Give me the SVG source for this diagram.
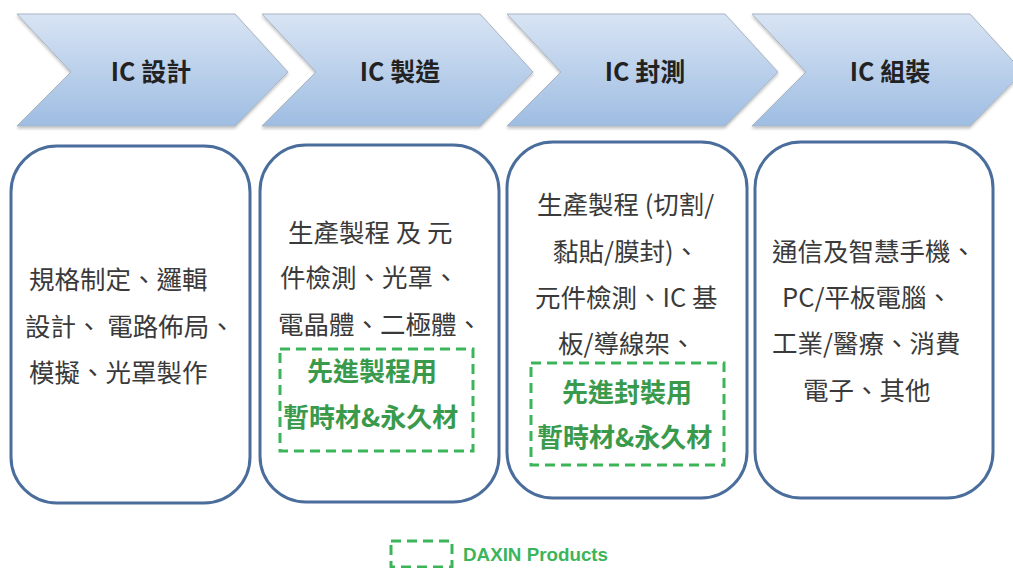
<svg xmlns="http://www.w3.org/2000/svg" width="1013" height="568" viewBox="0 0 1013 568">
<defs>
<linearGradient id="chev" x1="0" y1="0" x2="0" y2="1">
<stop offset="0" stop-color="#d8e4f4"/>
<stop offset="1" stop-color="#9ebde2"/>
</linearGradient>
<filter id="sh" x="-5%" y="-10%" width="110%" height="125%">
<feDropShadow dx="0" dy="2" stdDeviation="1.5" flood-color="#000" flood-opacity="0.25"/>
</filter>
</defs>
<style>
.chev{fill:url(#chev);stroke:#a9b4c2;stroke-width:1;filter:url(#sh)}
.ct{font-family:"Noto Sans CJK TC","Noto Sans",sans-serif;font-weight:bold;font-size:25px;fill:#222;text-anchor:middle}
.box{fill:#fff;stroke:#4a6d9c;stroke-width:3}
.bt{font-family:"Noto Sans CJK TC","Noto Sans",sans-serif;font-size:25.5px;fill:#3a3a3a}
.gt{font-family:"Noto Sans CJK TC","Noto Sans",sans-serif;font-size:26px;font-weight:bold;fill:#3a9a4c}
.dash{fill:none;stroke:#3cb55a;stroke-width:3;stroke-dasharray:10 6}
.lg{font-family:"Liberation Sans",Arial,sans-serif;font-weight:bold;font-size:18.8px;fill:#3cb55a}
</style>
<g id="stage-design">
<polygon class="chev" points="17,14 235,14 288,72 235,126 17,126 71,72"/>
<text class="ct" x="151" y="81">IC 設計</text>
</g>
<g id="stage-fab">
<polygon class="chev" points="262,14 480,14 533,72 480,126 262,126 316,72"/>
<text class="ct" x="400" y="81">IC 製造</text>
</g>
<g id="stage-test">
<polygon class="chev" points="507,14 725,14 778,72 725,126 507,126 561,72"/>
<text class="ct" x="645" y="81">IC 封測</text>
</g>
<g id="stage-assembly">
<polygon class="chev" points="752,14 970,14 1023,72 970,126 752,126 806,72"/>
<text class="ct" x="890" y="81">IC 組裝</text>
</g>
<g id="box-design">
<rect class="box" x="11" y="146" width="239" height="357" rx="46" ry="46"/>
<text class="bt" x="29" y="289">規格制定、邏輯</text>
<text class="bt" x="25" y="336">設計、 電路佈局、</text>
<text class="bt" x="29" y="382">模擬、光罩製作</text>
</g>
<g id="box-fab">
<rect class="box" x="260" y="145" width="239" height="357" rx="46" ry="46"/>
<text class="bt" x="288" y="242">生產製程 及 元</text>
<text class="bt" x="280" y="287">件檢測、光罩、</text>
<text class="bt" x="278" y="334">電晶體、二極體、</text>
<rect class="dash" x="280" y="349" width="193" height="102"/>
<text class="gt" x="307" y="381">先進製程用</text>
<text class="gt" x="283" y="427">暫時材&amp;永久材</text>
</g>
<g id="box-test">
<rect class="box" x="507" y="142" width="240" height="356" rx="46" ry="46"/>
<text class="bt" x="537" y="214">生產製程 (切割/</text>
<text class="bt" x="553" y="261">黏貼/膜封)、</text>
<text class="bt" x="535" y="307">元件檢測、IC 基</text>
<text class="bt" x="558" y="353">板/導線架、</text>
<rect class="dash" x="531" y="363" width="193" height="102"/>
<text class="gt" x="562" y="402">先進封裝用</text>
<text class="gt" x="537" y="447">暫時材&amp;永久材</text>
</g>
<g id="box-assembly">
<rect class="box" x="755" y="142" width="238" height="356" rx="46" ry="46"/>
<text class="bt" x="772" y="261">通信及智慧手機、</text>
<text class="bt" x="782" y="307">PC/平板電腦、</text>
<text class="bt" x="772" y="353">工業/醫療、消費</text>
<text class="bt" x="803" y="400">電子、其他</text>
</g>
<g id="legend">
<rect class="dash" x="391" y="541" width="61" height="26"/>
<text class="lg" x="463" y="561">DAXIN Products</text>
</g>
<g id="connectors"/>
</svg>
